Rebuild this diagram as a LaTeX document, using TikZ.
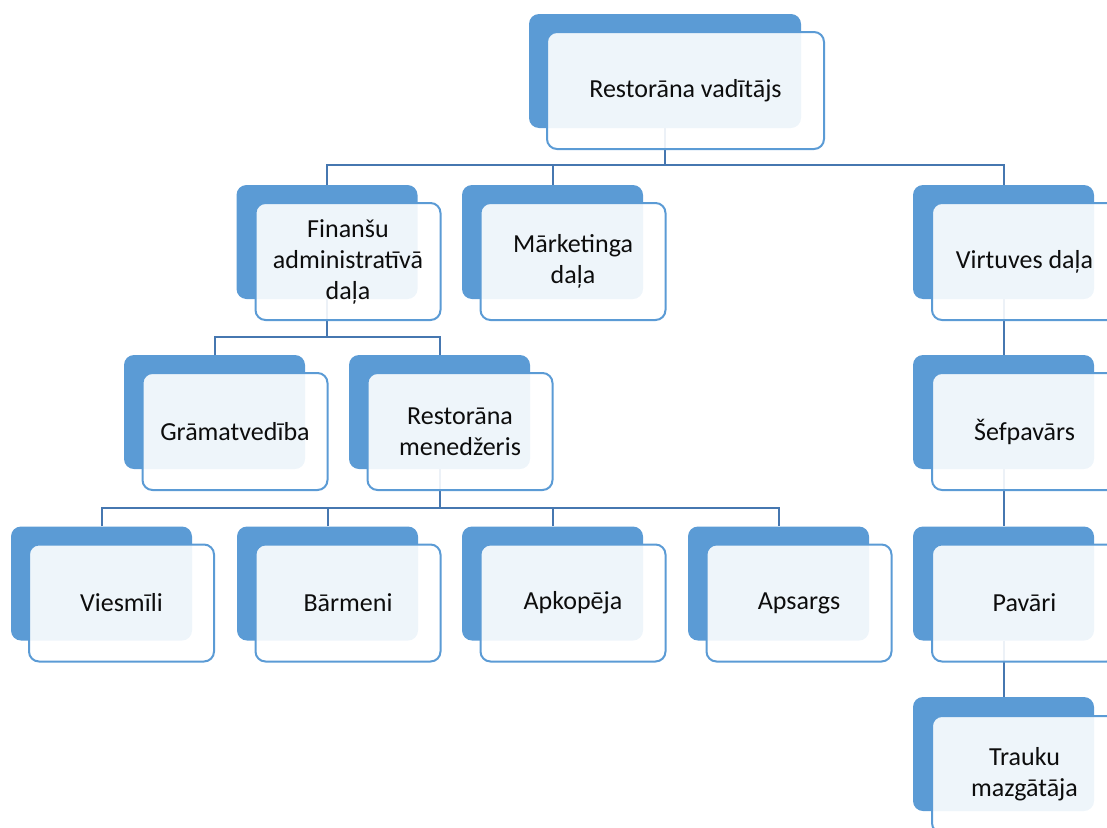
\documentclass[tikz,border=0pt]{standalone}
\usepackage{fontspec}
\setmainfont{Carlito}
\usetikzlibrary{calc}
\definecolor{boxblue}{HTML}{5B9BD5}
\definecolor{linkblue}{HTML}{4677B0}
\definecolor{txt}{HTML}{0D0D0D}
\pgfdeclarelayer{bg}
\pgfsetlayers{bg,main}
\begin{document}
\begin{tikzpicture}[x=1pt,y=-1pt,
  back/.style={fill=boxblue,rounded corners=10pt,minimum width=181pt,minimum height=114pt,inner sep=0pt},
  front/.style={fill=white,fill opacity=0.9,text opacity=1,draw=boxblue,draw opacity=1,line width=2pt,rounded corners=10pt,minimum width=185pt,minimum height=117pt,inner sep=0pt,align=center,text=txt,font=\fontsize{26}{31}\selectfont},
  conn/.style={draw=linkblue,line width=2pt}]
\useasboundingbox (0,0) rectangle (1107,827);
\clip (0,0) rectangle (1107,827);
% back boxes
\node[back,minimum width=272pt] (top) at (665,71) {};
\node[back] (fin) at (327,242) {};
\node[back] (mar) at (552.5,242) {};
\node[back] (vir) at (1003.5,242) {};
\node[back] (gra) at (214.5,412) {};
\node[back] (men) at (439.5,412) {};
\node[back] (sef) at (1003.5,412) {};
\node[back] (vie) at (101.5,583.5) {};
\node[back] (bar) at (327.5,583.5) {};
\node[back] (apk) at (552.5,583.5) {};
\node[back] (aps) at (778.5,583.5) {};
\node[back] (pav) at (1003.5,583.5) {};
\node[back] (tra) at (1003.5,754) {};
% connectors (under the boxes)
\coordinate (bus1) at (0,165);
\coordinate (bus2) at (0,337);
\coordinate (bus3) at (0,508);
\begin{pgfonlayer}{bg}
\draw[conn] (top.south) -- (top.south |- bus1);
\draw[conn] (fin.north) |- (top.south |- bus1) -| (vir.north);
\draw[conn] (mar.north) -- (mar.north |- bus1);
\draw[conn] (fin.south) -- (fin.south |- bus2);
\draw[conn] (gra.north) |- (fin.south |- bus2) -| (men.north);
\draw[conn] (men.south) -- (men.south |- bus3);
\draw[conn] (vie.north) |- (men.south |- bus3) -| (aps.north);
\draw[conn] (bar.north) -- (bar.north |- bus3);
\draw[conn] (apk.north) -- (apk.north |- bus3);
\draw[conn] (vir.south) -- (sef.north);
\draw[conn] (sef.south) -- (pav.north);
\draw[conn] (pav.south) -- (tra.north);
\end{pgfonlayer}
% front boxes with text
\node[front,minimum width=277pt] (topF) at ($(top)+(20.5,19.5)$) {Restorāna vadītājs};
\node[front] (finF) at ($(fin)+(21,19.5)$) {Finanšu\\administratīvā\\daļa};
\node[front] (marF) at ($(mar)+(20.5,19.5)$) {Mārketinga\\daļa};
\node[front] (virF) at ($(vir)+(21,19.5)$) {Virtuves daļa};
\node[front] (graF) at ($(gra)+(20.5,19.5)$) {Grāmatvedība};
\node[front] (menF) at ($(men)+(20.5,19.5)$) {Restorāna\\menedžeris};
\node[front] (sefF) at ($(sef)+(21,19.5)$) {Šefpavārs};
\node[front] (vieF) at ($(vie)+(20,19.5)$) {Viesmīli};
\node[front] (barF) at ($(bar)+(20.5,19.5)$) {Bārmeni};
\node[front] (apkF) at ($(apk)+(20.5,19.5)$) {Apkopēja};
\node[front] (apsF) at ($(aps)+(20.5,19.5)$) {Apsargs};
\node[front] (pavF) at ($(pav)+(21,19.5)$) {Pavāri};
\node[front] (traF) at ($(tra)+(21,20.5)$) {Trauku\\mazgātāja};
\end{tikzpicture}
\end{document}
